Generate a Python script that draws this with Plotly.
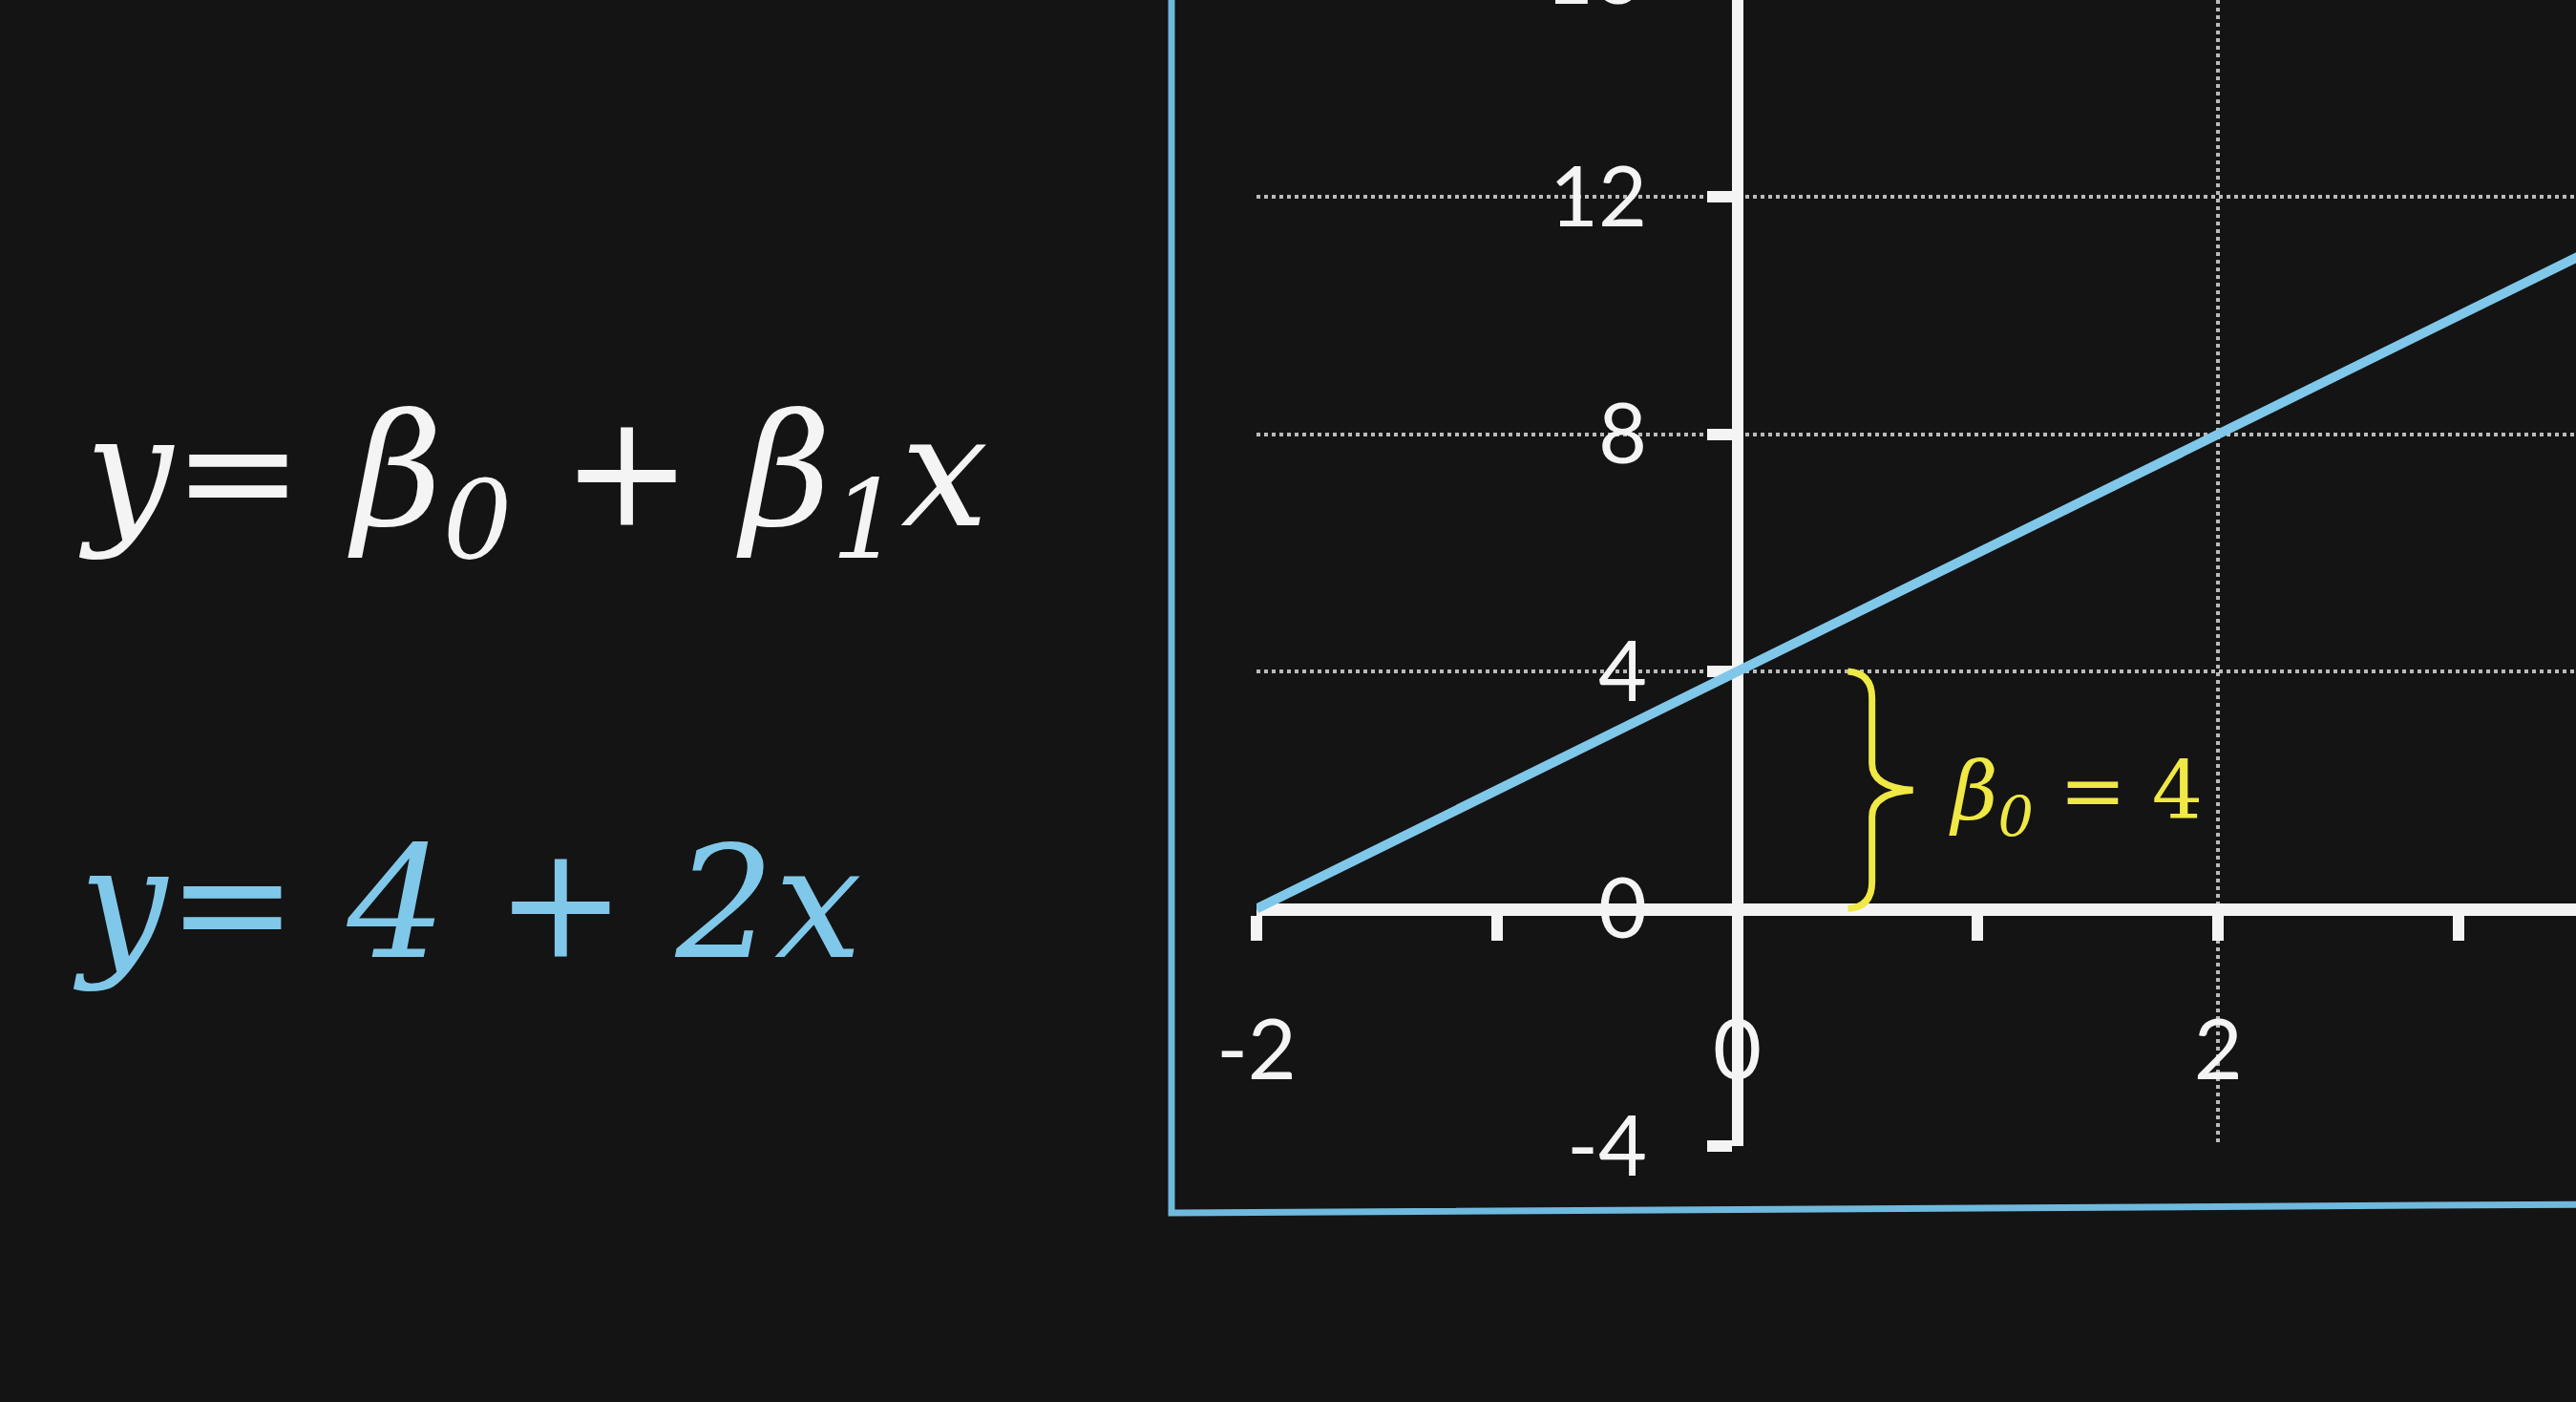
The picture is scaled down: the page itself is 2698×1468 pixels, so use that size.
import plotly.graph_objects as go

# ---------------- data ----------------
line_x = [-2, 3.5]
line_y = [0, 11]
intercept = 4
x_major_ticks = [-2, 0, 2]
x_major_labels = ["-2", "0", "2"]
x_minor_step = 1
y_ticks = [-4, 0, 4, 8, 12]
y_labels = ["-4", "0", "4", "8", "12"]
x_range = [-2, 3.488]
y_range = [-4, 15.32]
eq_general = "<i>y</i>= <i>β</i><sub><i>0</i></sub> + <i>β</i><sub><i>1</i></sub><i>x</i>"
eq_specific = "<i>y</i>= <i>4</i> + <i>2x</i>"
beta0_label = "<i>β</i><sub><i>0</i></sub> = 4"

# ---------------- style ----------------
W, H = 2698, 1468
ML, MB = 1316, 268
BG = "#141414"
WHITE = "#f4f4f4"
BLUE = "#80c8ea"
FRAME_BLUE = "#6fb9de"
YELLOW = "#efe845"
GRID = "rgba(215,215,215,0.85)"
SERIF = "DejaVu Serif"
SANS = "Lato"

def frac_x(v):
    return (v - x_range[0]) / (x_range[1] - x_range[0])

def frac_y(v):
    return (v - y_range[0]) / (y_range[1] - y_range[0])

fig = go.Figure()
fig.add_trace(go.Scatter(x=line_x, y=line_y, mode="lines",
                         line=dict(color=BLUE, width=10),
                         hoverinfo="skip", showlegend=False))

# brace for the intercept
top, bot = intercept, 0
mid = (top + bot) / 2
xv, xt, xe = 0.56, 0.73, 0.46
brace = (f"M {xe},{top} Q {xv},{top-0.03} {xv},{top-0.45} "
         f"L {xv},{mid+0.45} Q {xv},{mid+0.05} {xt},{mid} "
         f"Q {xv},{mid-0.05} {xv},{mid-0.45} "
         f"L {xv},{bot+0.45} Q {xv},{bot+0.03} {xe},{bot}")
fig.add_shape(type="path", path=brace, xref="x", yref="y",
              line=dict(color=YELLOW, width=7))

# outer blue frame (left + bottom)
pxl = (1227 - ML) / (W - ML)
pyb_l = ((H - MB) - 1270) / (H - MB)
pyb_r = ((H - MB) - 1261) / (H - MB)
fig.add_shape(type="path", xref="paper", yref="paper",
              path=f"M {pxl},1.02 L {pxl},{pyb_l} L 1.02,{pyb_r}",
              line=dict(color=FRAME_BLUE, width=7))

fig.add_annotation(text=beta0_label, x=0.87, y=mid - 0.1, xref="x", yref="y",
                   xanchor="left", yanchor="middle", showarrow=False,
                   font=dict(family=SERIF, size=84, color=YELLOW))

fig.add_annotation(text=eq_general, x=(80 - ML) / (W - ML),
                   y=((H - MB) - 505) / (H - MB), xref="paper", yref="paper",
                   xanchor="left", yanchor="middle", showarrow=False,
                   font=dict(family=SERIF, size=163, color=WHITE))
fig.add_annotation(text=eq_specific, x=(74 - ML) / (W - ML),
                   y=((H - MB) - 945) / (H - MB), xref="paper", yref="paper",
                   xanchor="left", yanchor="middle", showarrow=False,
                   font=dict(family=SERIF, size=163, color=BLUE))

# partially visible top tick label
fig.add_annotation(text="16", x=(1722 - ML) / (W - ML), y=frac_y(15.8),
                   xref="paper", yref="paper", xanchor="right", yanchor="middle",
                   showarrow=False, font=dict(family=SANS, size=88, color=WHITE))

fig.update_layout(
    width=W, height=H,
    margin=dict(l=ML, r=0, t=0, b=MB, pad=0),
    paper_bgcolor=BG, plot_bgcolor="rgba(0,0,0,0)",
    showlegend=False,
    xaxis=dict(range=x_range, anchor="free", position=frac_y(0),
               tickvals=x_major_ticks, ticktext=x_major_labels,
               showgrid=True, gridcolor=GRID, gridwidth=4, griddash="dot",
               zeroline=False, showline=True, linecolor=WHITE, linewidth=13,
               ticks="outside", ticklen=26, tickwidth=12, tickcolor=WHITE,
               ticklabelstandoff=40,
               minor=dict(dtick=x_minor_step, ticks="outside", ticklen=26,
                          tickwidth=12, tickcolor=WHITE, showgrid=False),
               tickfont=dict(family=SANS, size=88, color=WHITE),
               layer="below traces", fixedrange=True),
    yaxis=dict(range=y_range, anchor="free", position=frac_x(0),
               tickvals=y_ticks, ticktext=y_labels,
               showgrid=True, gridcolor=GRID, gridwidth=4, griddash="dot",
               zeroline=False, showline=True, linecolor=WHITE, linewidth=12,
               ticks="outside", ticklen=26, tickwidth=12, tickcolor=WHITE,
               ticklabelstandoff=45,
               tickfont=dict(family=SANS, size=88, color=WHITE),
               layer="below traces", fixedrange=True),
)

fig.write_html("out.html",
               config={"displayModeBar": False},
               post_script="document.body.style.margin='0';"
                           "document.body.style.background='" + BG + "';"
                           "document.documentElement.style.background='" + BG + "';")
